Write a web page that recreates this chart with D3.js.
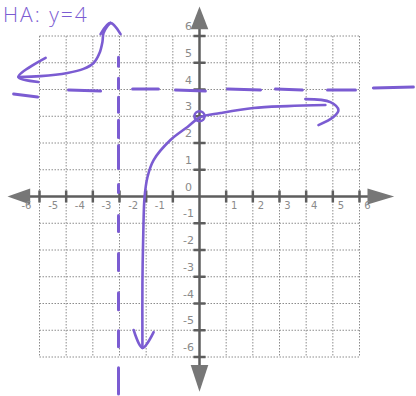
<!DOCTYPE html>
<html>
<head>
<meta charset="utf-8">
<script src="https://cdn.jsdelivr.net/npm/d3@7/dist/d3.min.js"></script>
<style>
  html, body { margin: 0; padding: 0; background: #fff; overflow: hidden; }
  svg { display: block; }
</style>
</head>
<body>
<svg id="chart" width="416" height="396"></svg>
<script>
// Grid range and tick labels
const gridTicks = d3.range(-6, 7);
const xTickLabels = ["-6", "-5", "-4", "-3", "-2", "-1", "1", "2", "3", "4", "5", "6"];
const xTickValues = [-6, -5, -4, -3, -2, -1, 1, 2, 3, 4, 5, 6];
const yTickLabels = ["6", "5", "4", "3", "2", "1", "0", "-1", "-2", "-3", "-4", "-5", "-6"];
const yTickValues = [6, 5, 4, 3, 2, 1, 0, -1, -2, -3, -4, -5, -6];

// Asymptotes
const horizontalAsymptote = 4;
const verticalAsymptote = -3;
const title = "HA: y=4";

// Hand-sketched dashes of the horizontal asymptote [x1, y1, x2, y2]
const haDashes = [
  [-6.97, 3.83, -6.07, 3.72],
  [-4.91, 3.98, -3.71, 3.94],
  [-2.51, 4.02, -1.54, 4.02],
  [-0.90, 3.98, 0.22, 3.94],
  [1.05, 4.02, 2.29, 3.98],
  [2.85, 4.02, 3.86, 3.98],
  [4.80, 3.98, 5.85, 3.98],
  [6.52, 4.06, 8.02, 4.09]
];
// Dashes of the vertical asymptote, as [yTop, yBottom]
const vaDashes = [
  [5.21, 4.87], [4.42, 4.04], [3.71, 3.15], [2.85, 2.21], [1.91, 1.05],
  [0.45, 0.15], [-0.71, -1.31], [-2.13, -2.77], [-3.60, -4.23],
  [-5.02, -5.62], [-6.40, -7.38]
];

// Upper-left branch of the curve
const leftBranch = [
  [-6.79, 4.47], [-5.96, 4.50], [-4.95, 4.62], [-4.35, 4.77], [-3.97, 4.99],
  [-3.75, 5.36], [-3.64, 5.78], [-3.60, 6.11], [-3.45, 6.37], [-3.34, 6.49]
];
const leftArrowWest = [[-5.77, 5.18], [-6.79, 4.47], [-6.04, 4.28]];
const leftArrowNorth = [[-3.71, 6.07], [-3.34, 6.49], [-2.96, 6.07]];

// Lower-right branch of the curve
const rightBranch = [
  [-2.14, -5.66], [-2.14, -3.23], [-2.10, -0.99], [-2.06, -0.02], [-1.95, 0.73],
  [-1.72, 1.36], [-1.09, 2.11], [-0.45, 2.60], [0.04, 2.97], [0.79, 3.12],
  [2.02, 3.31], [3.30, 3.38], [4.72, 3.42]
];
const rightArrowSouth = [[-2.47, -4.99], [-2.14, -5.66], [-1.72, -5.07]];
const rightArrowEast = [[3.97, 3.64], [4.91, 3.53], [5.21, 3.23], [5.02, 2.97], [4.46, 2.67]];

// y-intercept
const yIntercept = [0, 3];

const svg = d3.select("#chart");
const x = d3.scaleLinear().domain([-6, 6]).range([39.5, 359.5]);
const y = d3.scaleLinear().domain([-6, 6]).range([357, 36]);

const pen = "#7b5cd2";
const gridColor = "#8c8c8c";
const axisColor = "#5e5e5e";

// Grid
const grid = svg.append("g");
grid.selectAll("line.v").data(gridTicks).join("line")
  .attr("x1", d => x(d)).attr("x2", d => x(d))
  .attr("y1", y(6)).attr("y2", y(-6))
  .attr("stroke", gridColor).attr("stroke-width", 1)
  .attr("stroke-dasharray", "1.5,1.5");
grid.selectAll("line.h").data(gridTicks).join("line")
  .attr("y1", d => y(d)).attr("y2", d => y(d))
  .attr("x1", x(-6)).attr("x2", x(6))
  .attr("stroke", gridColor).attr("stroke-width", 1)
  .attr("stroke-dasharray", "1.5,1.5");

// Axes
const axes = svg.append("g");
axes.append("line")
  .attr("x1", x(-6.9)).attr("x2", x(6.9))
  .attr("y1", y(0)).attr("y2", y(0))
  .attr("stroke", axisColor).attr("stroke-width", 2.5);
axes.append("line")
  .attr("x1", x(0)).attr("x2", x(0))
  .attr("y1", y(6.9)).attr("y2", y(-6.9))
  .attr("stroke", axisColor).attr("stroke-width", 2.5);

// Arrowheads on the axes
const tri = (tip, baseA, baseB) => `M${tip}L${baseA}L${baseB}Z`;
axes.append("path")
  .attr("d", tri([x(-7.2), y(0)], [x(-6.35), y(0.3)], [x(-6.35), y(-0.3)]))
  .attr("fill", "#777");
axes.append("path")
  .attr("d", tri([x(7.3), y(0)], [x(6.3), y(0.3)], [x(6.3), y(-0.3)]))
  .attr("fill", "#777");
axes.append("path")
  .attr("d", tri([x(0), y(7.1)], [x(-0.33), y(6.25)], [x(0.33), y(6.25)]))
  .attr("fill", "#777");
axes.append("path")
  .attr("d", tri([x(0), y(-7.3)], [x(-0.33), y(-6.3)], [x(0.33), y(-6.3)]))
  .attr("fill", "#777");

// Tick marks
axes.selectAll("line.xt").data(gridTicks.filter(d => d !== 0)).join("line")
  .attr("x1", d => x(d)).attr("x2", d => x(d))
  .attr("y1", y(0) - 6).attr("y2", y(0) + 6)
  .attr("stroke", axisColor).attr("stroke-width", 2.5);
axes.selectAll("line.yt").data(gridTicks.filter(d => d !== 0)).join("line")
  .attr("y1", d => y(d)).attr("y2", d => y(d))
  .attr("x1", x(0) - 6).attr("x2", x(0) + 6)
  .attr("stroke", axisColor).attr("stroke-width", 2.5);

// Tick labels
const labelFont = "'DejaVu Sans', sans-serif";
svg.append("g").selectAll("text").data(xTickValues).join("text")
  .attr("x", d => x(d) + (d < 0 ? -13 : 8))
  .attr("y", y(0) + 9)
  .attr("text-anchor", "middle")
  .attr("dominant-baseline", "middle")
  .attr("font-family", labelFont)
  .attr("font-size", 10)
  .attr("fill", "#8a8a8a")
  .text((d, i) => xTickLabels[i]);
svg.append("g").selectAll("text").data(yTickValues).join("text")
  .attr("x", x(0) - 11)
  .attr("y", d => y(d) - 9)
  .attr("text-anchor", "middle")
  .attr("dominant-baseline", "middle")
  .attr("font-family", labelFont)
  .attr("font-size", 11)
  .attr("fill", "#8a8a8a")
  .text((d, i) => yTickLabels[i]);

// Asymptotes
const asym = svg.append("g").attr("stroke", pen).attr("stroke-linecap", "round");
asym.selectAll("line.ha").data(haDashes).join("line")
  .attr("x1", d => x(d[0])).attr("y1", d => y(d[1]))
  .attr("x2", d => x(d[2])).attr("y2", d => y(d[3]))
  .attr("stroke-width", 3);
asym.selectAll("line.va").data(vaDashes).join("line")
  .attr("x1", x(verticalAsymptote) - 1).attr("x2", x(verticalAsymptote) - 1)
  .attr("y1", d => y(d[0])).attr("y2", d => y(d[1]))
  .attr("stroke-width", 3);

// Curve
const line = d3.line().x(d => x(d[0])).y(d => y(d[1])).curve(d3.curveCatmullRom);
const curves = svg.append("g")
  .attr("fill", "none").attr("stroke", pen).attr("stroke-width", 2.6)
  .attr("stroke-linecap", "round").attr("stroke-linejoin", "round");
[leftBranch, leftArrowWest, leftArrowNorth, rightBranch, rightArrowSouth, rightArrowEast]
  .forEach(pts => curves.append("path").attr("d", line(pts)));

// y-intercept marker
svg.append("circle")
  .attr("cx", x(yIntercept[0])).attr("cy", y(yIntercept[1]))
  .attr("r", 5)
  .attr("fill", "none").attr("stroke", pen).attr("stroke-width", 2.5);

// Note at the top left
svg.append("text")
  .attr("x", 3).attr("y", 22)
  .attr("font-family", "'Open Sans', sans-serif")
  .attr("font-weight", 300)
  .attr("font-size", 21)
  .attr("letter-spacing", 2)
  .attr("fill", pen)
  .text(title);
</script>
</body>
</html>
